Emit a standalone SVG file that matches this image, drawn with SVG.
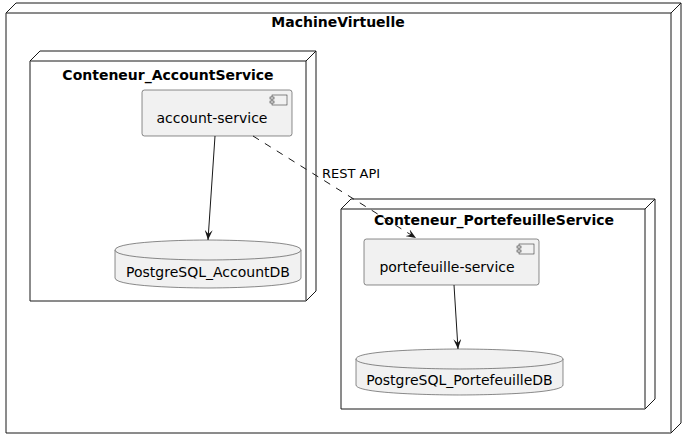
<svg xmlns="http://www.w3.org/2000/svg" width="685" height="441" viewBox="0 0 685 441">
<style>
.node{fill:#FFFFFF;stroke:#181818;stroke-width:1}
.title{font-family:"DejaVu Sans",sans-serif;font-size:14px;font-weight:bold;fill:#000000;text-anchor:middle}
.comp{fill:#F1F1F1;stroke:#181818;stroke-width:0.5}
.lbl{font-family:"DejaVu Sans",sans-serif;font-size:14px;fill:#000000;text-anchor:middle}
.edge{fill:none;stroke:#181818;stroke-width:1}
.dash{stroke-dasharray:7,7}
.elbl{font-family:"DejaVu Sans",sans-serif;font-size:13px;fill:#000000}
</style>
<defs>
<marker id="arr" markerUnits="userSpaceOnUse" markerWidth="10" markerHeight="8" refX="10" refY="4" orient="auto" viewBox="0 0 10 8">
<path d="M0,0 L10,4 L0,8 L4,4 Z" fill="#181818"/>
</marker>
</defs>
<g id="MachineVirtuelle">
<path class="node" d="M6,13 L16,3 L681,3 L681,423 L671,433 L6,433 Z"/>
<path class="node" d="M671,13 L681,3 M6,13 L671,13 L671,433"/>
<text class="title" x="338" y="27">MachineVirtuelle</text>
</g>
<g id="Conteneur_AccountService">
<path class="node" d="M30,61 L40,51 L316,51 L316,291 L306,301 L30,301 Z"/>
<path class="node" d="M306,61 L316,51 M30,61 L306,61 L306,301"/>
<text class="title" x="168" y="80">Conteneur_AccountService</text>
</g>
<g id="Conteneur_PortefeuilleService">
<path class="node" d="M341,209 L351,199 L655,199 L655,399 L645,409 L341,409 Z"/>
<path class="node" d="M645,209 L655,199 M341,209 L645,209 L645,409"/>
<text class="title" x="494" y="225">Conteneur_PortefeuilleService</text>
</g>
<g id="account-service">
<rect class="comp" x="142" y="90" width="150" height="46" rx="2.5" ry="2.5"/>
<rect class="comp" x="272" y="95" width="15" height="10"/>
<rect class="comp" x="270" y="97" width="4" height="2"/>
<rect class="comp" x="270" y="101" width="4" height="2"/>
<text class="lbl" x="212" y="123">account-service</text>
</g>
<g id="portefeuille-service">
<rect class="comp" x="364" y="239" width="175" height="46" rx="2.5" ry="2.5"/>
<rect class="comp" x="519" y="244" width="15" height="10"/>
<rect class="comp" x="517" y="246" width="4" height="2"/>
<rect class="comp" x="517" y="250" width="4" height="2"/>
<text class="lbl" x="447" y="272">portefeuille-service</text>
</g>
<g id="PostgreSQL_AccountDB">
<path class="comp" d="M115,250 C115,240 208,240 208,240 C208,240 301,240 301,250 L301,278 C301,288 208,288 208,288 C208,288 115,288 115,278 Z"/>
<path class="comp" d="M115,250 C115,260 208,260 208,260 C208,260 301,260 301,250" fill="none"/>
<text class="lbl" x="208" y="277">PostgreSQL_AccountDB</text>
</g>
<g id="PostgreSQL_PortefeuilleDB">
<path class="comp" d="M356,359 C356,349 459.5,349 459.5,349 C459.5,349 563,349 563,359 L563,385 C563,395 459.5,395 459.5,395 C459.5,395 356,395 356,385 Z"/>
<path class="comp" d="M356,359 C356,369 459.5,369 459.5,369 C459.5,369 563,369 563,359" fill="none"/>
<text class="lbl" x="459.5" y="385">PostgreSQL_PortefeuilleDB</text>
</g>
<g id="connectors">
<line class="edge" x1="215" y1="136" x2="208" y2="240" marker-end="url(#arr)"/>
<line class="edge" x1="454" y1="285" x2="458" y2="349" marker-end="url(#arr)"/>
<line class="edge dash" x1="253" y1="136" x2="416" y2="238" marker-end="url(#arr)"/>
<text class="elbl" x="322" y="178">REST API</text>
</g>
</svg>
